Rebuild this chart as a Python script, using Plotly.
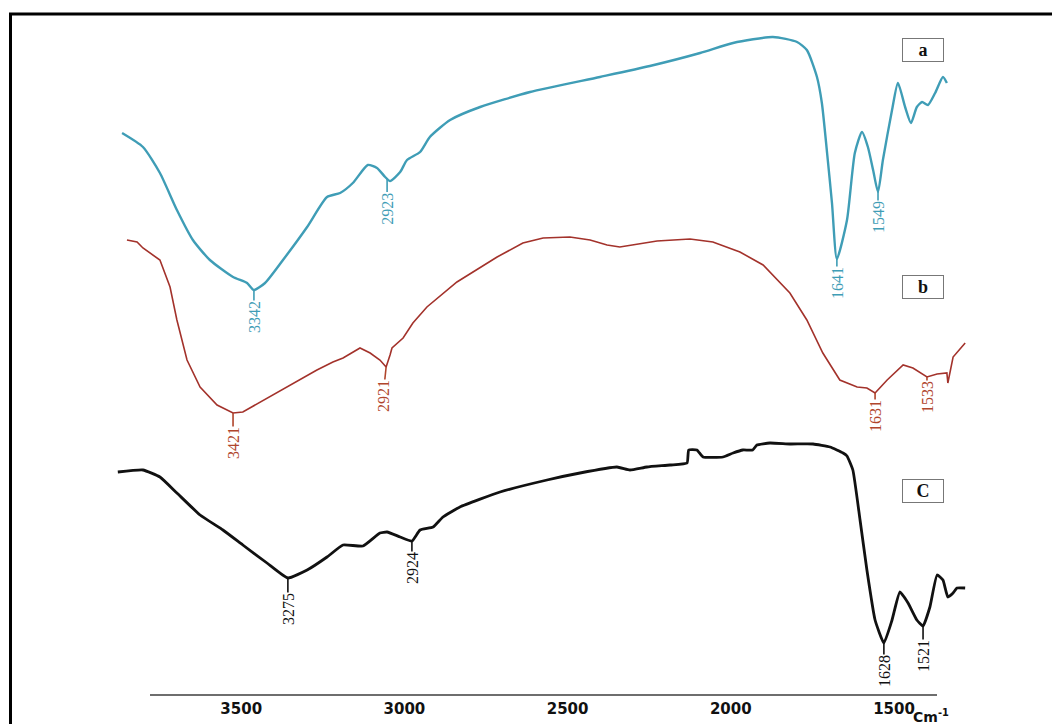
import numpy as np
import plotly.graph_objects as go

# ---------------- data (wavenumber in cm-1 as read on the bottom axis, transmittance in a.u. with offsets) -------------
wave_a = [3865, 3801, 3749, 3697, 3648, 3596, 3525, 3482, 3461, 3427, 3372, 3298, 3237, 3197, 3158,
          3112, 3084, 3059, 3044, 3013, 2992, 2952, 2922, 2860, 2768, 2615, 2401, 2248, 2094, 1993,
          1871, 1797, 1767, 1736, 1721, 1705, 1690, 1675, 1644, 1620, 1598, 1580, 1564, 1549, 1534,
          1506, 1488, 1466, 1448, 1430, 1414, 1396, 1374, 1350, 1338]
trans_a = [56.1, 54.7, 52.1, 48.4, 45.4, 43.4, 41.7, 41.1, 40.4, 41.1, 43.4, 46.7, 49.7, 50.1, 51.1,
           52.9, 52.6, 51.7, 51.3, 52.2, 53.4, 54.2, 55.7, 57.4, 58.7, 60.2, 61.7, 62.8, 64.1, 65.1,
           65.7, 65.2, 64.4, 61.7, 59.1, 54.1, 49.1, 43.5, 47.4, 54.1, 56.2, 54.7, 52.4, 50.2, 53.4,
           58.4, 61.1, 58.7, 57.1, 58.7, 59.2, 58.9, 60.1, 61.7, 61.1]

wave_b = [3850, 3819, 3801, 3749, 3718, 3697, 3666, 3626, 3574, 3525, 3495, 3442, 3341, 3268, 3219,
          3188, 3136, 3105, 3075, 3056, 3044, 3038, 3004, 2974, 2931, 2839, 2716, 2637, 2575, 2493,
          2431, 2379, 2340, 2287, 2226, 2125, 2055, 1972, 1901, 1819, 1767, 1718, 1666, 1613, 1583,
          1558, 1521, 1472, 1442, 1399, 1368, 1338, 1335, 1319, 1282]
trans_b = [45.4, 45.2, 44.6, 43.4, 40.7, 37.4, 33.4, 30.7, 28.9, 28.1, 28.2, 29.2, 31.1, 32.4, 33.2,
           33.6, 34.6, 34.1, 33.4, 32.7, 33.9, 34.6, 35.6, 37.1, 38.7, 41.2, 43.7, 45.1, 45.6, 45.7,
           45.4, 44.9, 44.7, 45.0, 45.3, 45.5, 45.2, 44.2, 42.9, 40.1, 37.4, 34.1, 31.4, 30.7, 30.6,
           30.1, 31.4, 32.9, 32.6, 31.7, 32.0, 32.1, 31.1, 33.7, 35.1]

wave_c = [3878, 3801, 3749, 3697, 3626, 3556, 3495, 3421, 3357, 3298, 3237, 3188, 3127, 3075, 3053,
          3013, 2977, 2952, 2912, 2882, 2830, 2707, 2563, 2462, 2349, 2309, 2257, 2186, 2134, 2129,
          2104, 2085, 2024, 1993, 1963, 1933, 1920, 1880, 1819, 1748, 1696, 1656, 1644, 1626, 1604,
          1583, 1558, 1531, 1506, 1482, 1457, 1430, 1411, 1390, 1368, 1350, 1335, 1319, 1307, 1282]
trans_c = [22.2, 22.4, 21.7, 20.1, 17.9, 16.4, 14.9, 13.1, 11.6, 12.4, 13.7, 14.9, 14.8, 16.1, 16.2,
           15.7, 15.3, 16.4, 16.7, 17.7, 18.7, 20.2, 21.4, 22.1, 22.7, 22.4, 22.7, 22.9, 23.1, 24.4,
           24.4, 23.7, 23.7, 24.1, 24.4, 24.4, 24.9, 25.1, 25.0, 25.0, 24.7, 24.1, 23.8, 22.4, 17.4,
           12.4, 7.4, 5.1, 7.4, 10.2, 9.1, 7.4, 6.8, 8.7, 11.9, 11.4, 9.7, 10.1, 10.6, 10.6]

# peak labels (text) and where they sit on each curve (axis wavenumber)
peaks_a_text = ["3342", "2923", "1641", "1549"]
peaks_a_x = [3461, 3053, 1675, 1549]
peaks_b_text = ["3421", "2921", "1631", "1533"]
peaks_b_x = [3525, 3056, 1558, 1399]
peaks_c_text = ["3275", "2924", "1628", "1521"]
peaks_c_x = [3357, 2977, 1531, 1411]

tick_vals = [3500, 3000, 2500, 2000, 1500]
tick_text = ["3500", "3000", "2500", "2000", "1500"]
panel_labels = ["a", "b", "C"]

# ---------------- styling ----------------
W, H = 1052, 724
MB = 30
col_a = "#3f9db6"
col_b = "#a3322b"
col_b_txt = "#b0452c"
col_c = "#111111"
label_font = "Liberation Serif, serif"

fig = go.Figure()
fig.add_trace(go.Scatter(x=wave_a, y=trans_a, mode="lines", line=dict(color=col_a, width=2.4, shape="spline", smoothing=0.6),
                         hoverinfo="skip", showlegend=False))
fig.add_trace(go.Scatter(x=wave_b, y=trans_b, mode="lines", line=dict(color=col_b, width=1.6),
                         hoverinfo="skip", showlegend=False))
fig.add_trace(go.Scatter(x=wave_c, y=trans_c, mode="lines", line=dict(color=col_c, width=2.8, shape="spline", smoothing=0.4),
                         hoverinfo="skip", showlegend=False))
# carrier trace for the visible wavenumber axis
fig.add_trace(go.Scatter(x=tick_vals, y=[None] * len(tick_vals), xaxis="x2", yaxis="y", mode="markers",
                         hoverinfo="skip", showlegend=False))


def add_peaks(texts, xs, wx, ty, color, offsets, dxs=None):
    wr = np.array(wx[::-1], dtype=float)
    tr = np.array(ty[::-1], dtype=float)
    for i, (t, xv) in enumerate(zip(texts, xs)):
        yv = float(np.interp(xv, wr, tr))
        fig.add_annotation(x=xv, y=yv, xref="x", yref="y", text=t, textangle=-90,
                           showarrow=True, arrowhead=0, arrowwidth=1.6, arrowcolor=color,
                           ax=(dxs[i] if dxs else 0), ay=offsets[i],
                           font=dict(family=label_font, size=16, color=color), borderpad=0)


add_peaks(peaks_a_text, peaks_a_x, wave_a, trans_a, col_a, [27, 30, 24, 25])
add_peaks(peaks_b_text, peaks_b_x, wave_b, trans_b, col_b_txt, [30, 29, 23, 20], [0, -3, 0, 0])
add_peaks(peaks_c_text, peaks_c_x, wave_c, trans_c, col_c, [31, 27, 28, 30])

# panel letters in boxes
box_y = [50, 287, 491]
for lab, py in zip(panel_labels, box_y):
    fig.add_annotation(x=923 / W, y=(H - MB - py) / (H - MB), xref="paper", yref="paper", text="<b>%s</b>" % lab,
                       xanchor="center", yanchor="middle",
                       showarrow=False, width=38, height=20, bordercolor="#777777", borderwidth=1, borderpad=1,
                       bgcolor="white", font=dict(family="Liberation Serif, serif", size=18, color="#111111"))

# unit label
fig.add_annotation(x=931 / W, y=(H - MB - 716) / (H - MB), xref="paper", yref="paper",
                   xanchor="center", yanchor="middle",
                   text="<b>Cm<sup>-1</sup></b>", showarrow=False,
                   font=dict(family="DejaVu Sans, sans-serif", size=14, color="#111111"))

# outer frame
fig.add_shape(type="rect", xref="paper", yref="paper", x0=10.5 / W, x1=1.02,
              y0=(H - MB - 14) / (H - MB), y1=-0.08, line=dict(color="black", width=3), fillcolor="rgba(0,0,0,0)")

# axis scale: px = 567.6 - 0.3264*(w-2500) over the full width
full_lo = 2500 + 567.6 / 0.3264
full_hi = 2500 - (W - 567.6) / 0.3264
ax_lo = 2500 + (567.6 - 150) / 0.3264
ax_hi = 2500 - (937 - 567.6) / 0.3264

fig.update_layout(
    width=W, height=H,
    margin=dict(l=0, r=0, t=0, b=MB, pad=0),
    paper_bgcolor="white", plot_bgcolor="rgba(0,0,0,0)",
    xaxis=dict(domain=[0, 1], range=[full_lo, full_hi], visible=False),
    xaxis2=dict(domain=[150 / W, 937 / W], range=[ax_lo, ax_hi], anchor="y",
                tickmode="array", tickvals=tick_vals, ticktext=tick_text,
                ticks="", showline=True, linecolor="#6e6e6e", linewidth=2, showgrid=False, zeroline=False,
                tickfont=dict(family="DejaVu Sans, sans-serif", size=15, color="#111111", weight="bold")),
    yaxis=dict(domain=[0, 1], range=[0, (H - MB) / 10], visible=False),
)

fig.write_html("out.html", config={"displayModeBar": False},
               post_script="document.body.style.margin='0';document.body.style.overflow='hidden';")
